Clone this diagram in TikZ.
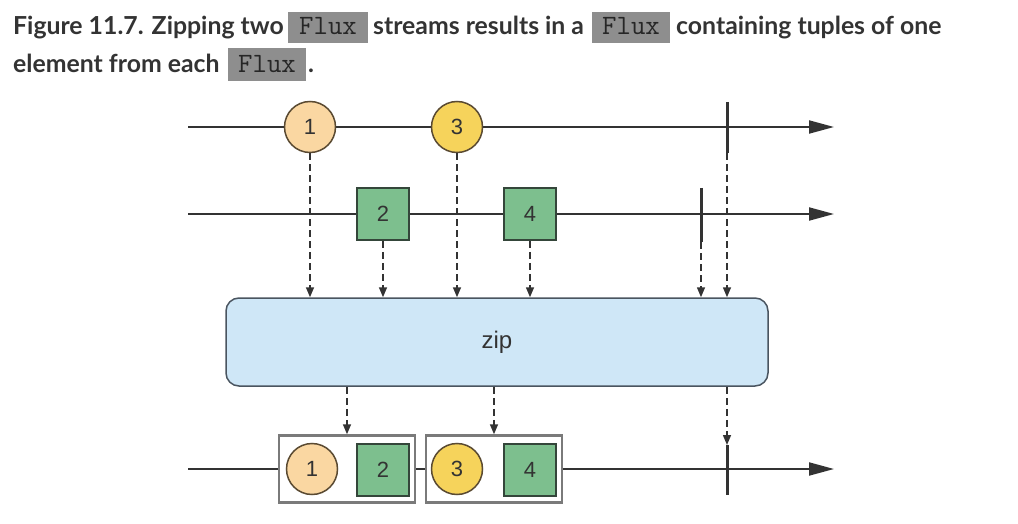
\documentclass[tikz,border=0pt]{standalone}
\usepackage{fontspec}
\setmainfont{Lato}
\setsansfont{Liberation Sans}
\usetikzlibrary{arrows.meta}
\definecolor{txt}{HTML}{333333}
\definecolor{fluxbg}{HTML}{8E8E8E}
\definecolor{fluxtxt}{HTML}{262626}
\definecolor{linecol}{HTML}{333333}
\definecolor{peach}{HTML}{FAD7A2}
\definecolor{yellowc}{HTML}{F6D35B}
\definecolor{circedge}{HTML}{5A4A32}
\definecolor{greensq}{HTML}{7DBF8E}
\definecolor{sqedge}{HTML}{34463A}
\definecolor{zipfill}{HTML}{CFE7F7}
\definecolor{zipedge}{HTML}{4A5560}
\definecolor{tupedge}{HTML}{7A7A7A}
\begin{document}
\begin{tikzpicture}[x=1pt,y=-1pt,
  caption/.style={anchor=base west,inner sep=0pt,text=txt,font=\fontsize{24.8}{28}\selectfont\bfseries},
  fluxbox/.style={fill=fluxbg,draw=none},
  fluxtext/.style={anchor=base,inner sep=0pt,text=fluxtxt,font=\fontsize{28}{30}\selectfont\ttfamily},
  stream/.style={draw=linecol,line width=2pt,-{Triangle[length=25pt,width=13pt]}},
  tick/.style={draw=linecol,line width=3pt},
  dasharrow/.style={draw=linecol,line width=1.5pt,dash pattern=on 7pt off 4pt,-{Triangle[length=10pt,width=8pt]}},
  circ/.style={circle,minimum size=51pt,inner sep=0pt,draw=circedge,line width=1.5pt,font=\fontsize{22}{24}\selectfont\sffamily,text=txt},
  sqr/.style={rectangle,minimum size=52pt,inner sep=0pt,fill=greensq,draw=sqedge,line width=1.5pt,font=\fontsize{22}{24}\selectfont\sffamily,text=txt},
  zipbox/.style={rectangle,rounded corners=13pt,fill=zipfill,draw=zipedge,line width=1.5pt,minimum width=542pt,minimum height=88pt,font=\fontsize{24}{26}\selectfont\sffamily,text=txt},
  tuple/.style={rectangle,fill=white,draw=tupedge,line width=2.5pt,minimum width=136pt,minimum height=67pt,inner sep=0pt}
]
\useasboundingbox (0,0) rectangle (1018,524);
% caption
\fill[fluxbox] (288,12) rectangle (368,43);
\fill[fluxbox] (592,12) rectangle (670,43);
\fill[fluxbox] (228,48) rectangle (306,81);
\node[caption] (cap1) at (13,35) {Figure 11.7. Zipping two};
\node[fluxtext] (f1) at (328,35) {Flux};
\node[caption] (cap2) at (373,35) {streams results in a};
\node[fluxtext] (f2) at (631,35) {Flux};
\node[caption] (cap3) at (676,35) {containing tuples of one};
\node[caption] (cap4) at (13,73) {element from each};
\node[fluxtext] (f3) at (267,73) {Flux};
\node[caption] (cap5) at (308,73) {.};
% stream coordinates
\coordinate (s1a) at (188,127); \coordinate (s1b) at (834,127);
\coordinate (s2a) at (188,214); \coordinate (s2b) at (834,214);
\coordinate (s3a) at (188,469); \coordinate (s3b) at (834,469);
\draw[stream] (s1a) -- (s1b);
\draw[stream] (s2a) -- (s2b);
\draw[stream] (s3a) -- (s3b);
% ticks
\coordinate (t1a) at (727,102); \coordinate (t1b) at (727,153);
\coordinate (t2a) at (701,188); \coordinate (t2b) at (701,242);
\coordinate (t3a) at (727,445); \coordinate (t3b) at (727,495);
\draw[tick] (t1a) -- (t1b);
\draw[tick] (t2a) -- (t2b);
\draw[tick] (t3a) -- (t3b);
% zip
\node[zipbox] (zip) at (497,342) {zip};
% top stream elements
\node[circ,fill=peach] (c1) at (310,127) {1};
\node[circ,fill=yellowc] (c3) at (457,127) {3};
\node[sqr] (q2) at (383,214) {2};
\node[sqr] (q4) at (530,214) {4};
% output tuples
\node[tuple] (tb1) at (347,469) {};
\node[tuple] (tb2) at (494,469) {};
\node[circ,fill=peach] (o1) at (312,469) {1};
\node[sqr] (o2) at (383,470) {2};
\node[circ,fill=yellowc] (o3) at (457,469) {3};
\node[sqr] (o4) at (530,470) {4};
% dashed arrows into zip
\draw[dasharrow] (c1.south) -- (c1.south |- zip.north);
\draw[dasharrow] (q2.south) -- (q2.south |- zip.north);
\draw[dasharrow] (c3.south) -- (c3.south |- zip.north);
\draw[dasharrow] (q4.south) -- (q4.south |- zip.north);
\draw[dasharrow] (t2b) -- (t2b |- zip.north);
\draw[dasharrow] (t1b) -- (t1b |- zip.north);
% dashed arrows out of zip
\draw[dasharrow] (tb1.north |- zip.south) -- (tb1.north);
\draw[dasharrow] (tb2.north |- zip.south) -- (tb2.north);
\draw[dasharrow] (t3a |- zip.south) -- (t3a);
\end{tikzpicture}
\end{document}
